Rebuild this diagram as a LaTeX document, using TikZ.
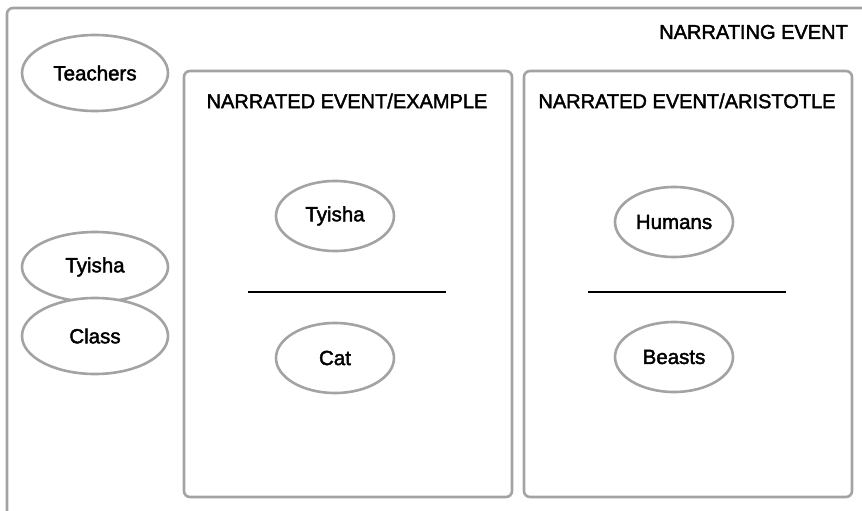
\documentclass[tikz,border=0pt]{standalone}
\usepackage{fontspec}
\setmainfont{Liberation Sans}[RawFeature={embolden=2}]
\usetikzlibrary{shapes.geometric}
\definecolor{frame}{HTML}{A3A3A3}
\begin{document}
\begin{tikzpicture}[x=1pt,y=-1pt,
  box/.style={draw=frame,line width=2.6pt,rounded corners=6pt},
  role/.style={ellipse,draw=frame,line width=2.6pt,fill=white,minimum width=#1,minimum height=70pt,inner sep=0pt,font=\fontsize{20.5}{24}\selectfont},
  role/.default=118pt,
  title/.style={font=\fontsize{20}{24}\selectfont,inner sep=0pt},
  bar/.style={line width=2.2pt,black}]
\useasboundingbox (0,0) rectangle (862,511);
\begin{scope}
\clip (0,0) rectangle (862,511);
\draw[box] (7,8) rectangle (880,530);
\end{scope}
\node[title,anchor=east] (narrating) at (848,32) {NARRATING EVENT};

% left column: participants of the narrating event
\node[role=146pt,minimum height=76pt] (teachers) at (95,73) {Teachers};
\node[role=146pt] (tyishaL) at (95,267) {Tyisha};
\node[role=146pt,minimum height=76pt] (class) at (95,336) {Class};

% narrated event: example
\draw[box] (184,71) rectangle (512,497);
\node[title] (exTitle) at (347,101) {NARRATED EVENT/EXAMPLE};
\node[role] (tyishaM) at (335,216) {Tyisha};
\node[role] (cat) at (335,358) {Cat};
\coordinate (exL) at (248,292);
\coordinate (exR) at (446,292);
\draw[bar] (exL) -- (exR);

% narrated event: Aristotle
\draw[box] (524,71) rectangle (852,497);
\node[title] (arTitle) at (687,101) {NARRATED EVENT/ARISTOTLE};
\node[role] (humans) at (674,222) {Humans};
\node[role] (beasts) at (674,357) {Beasts};
\coordinate (arL) at (588,292);
\coordinate (arR) at (786,292);
\draw[bar] (arL) -- (arR);
\end{tikzpicture}
\end{document}
